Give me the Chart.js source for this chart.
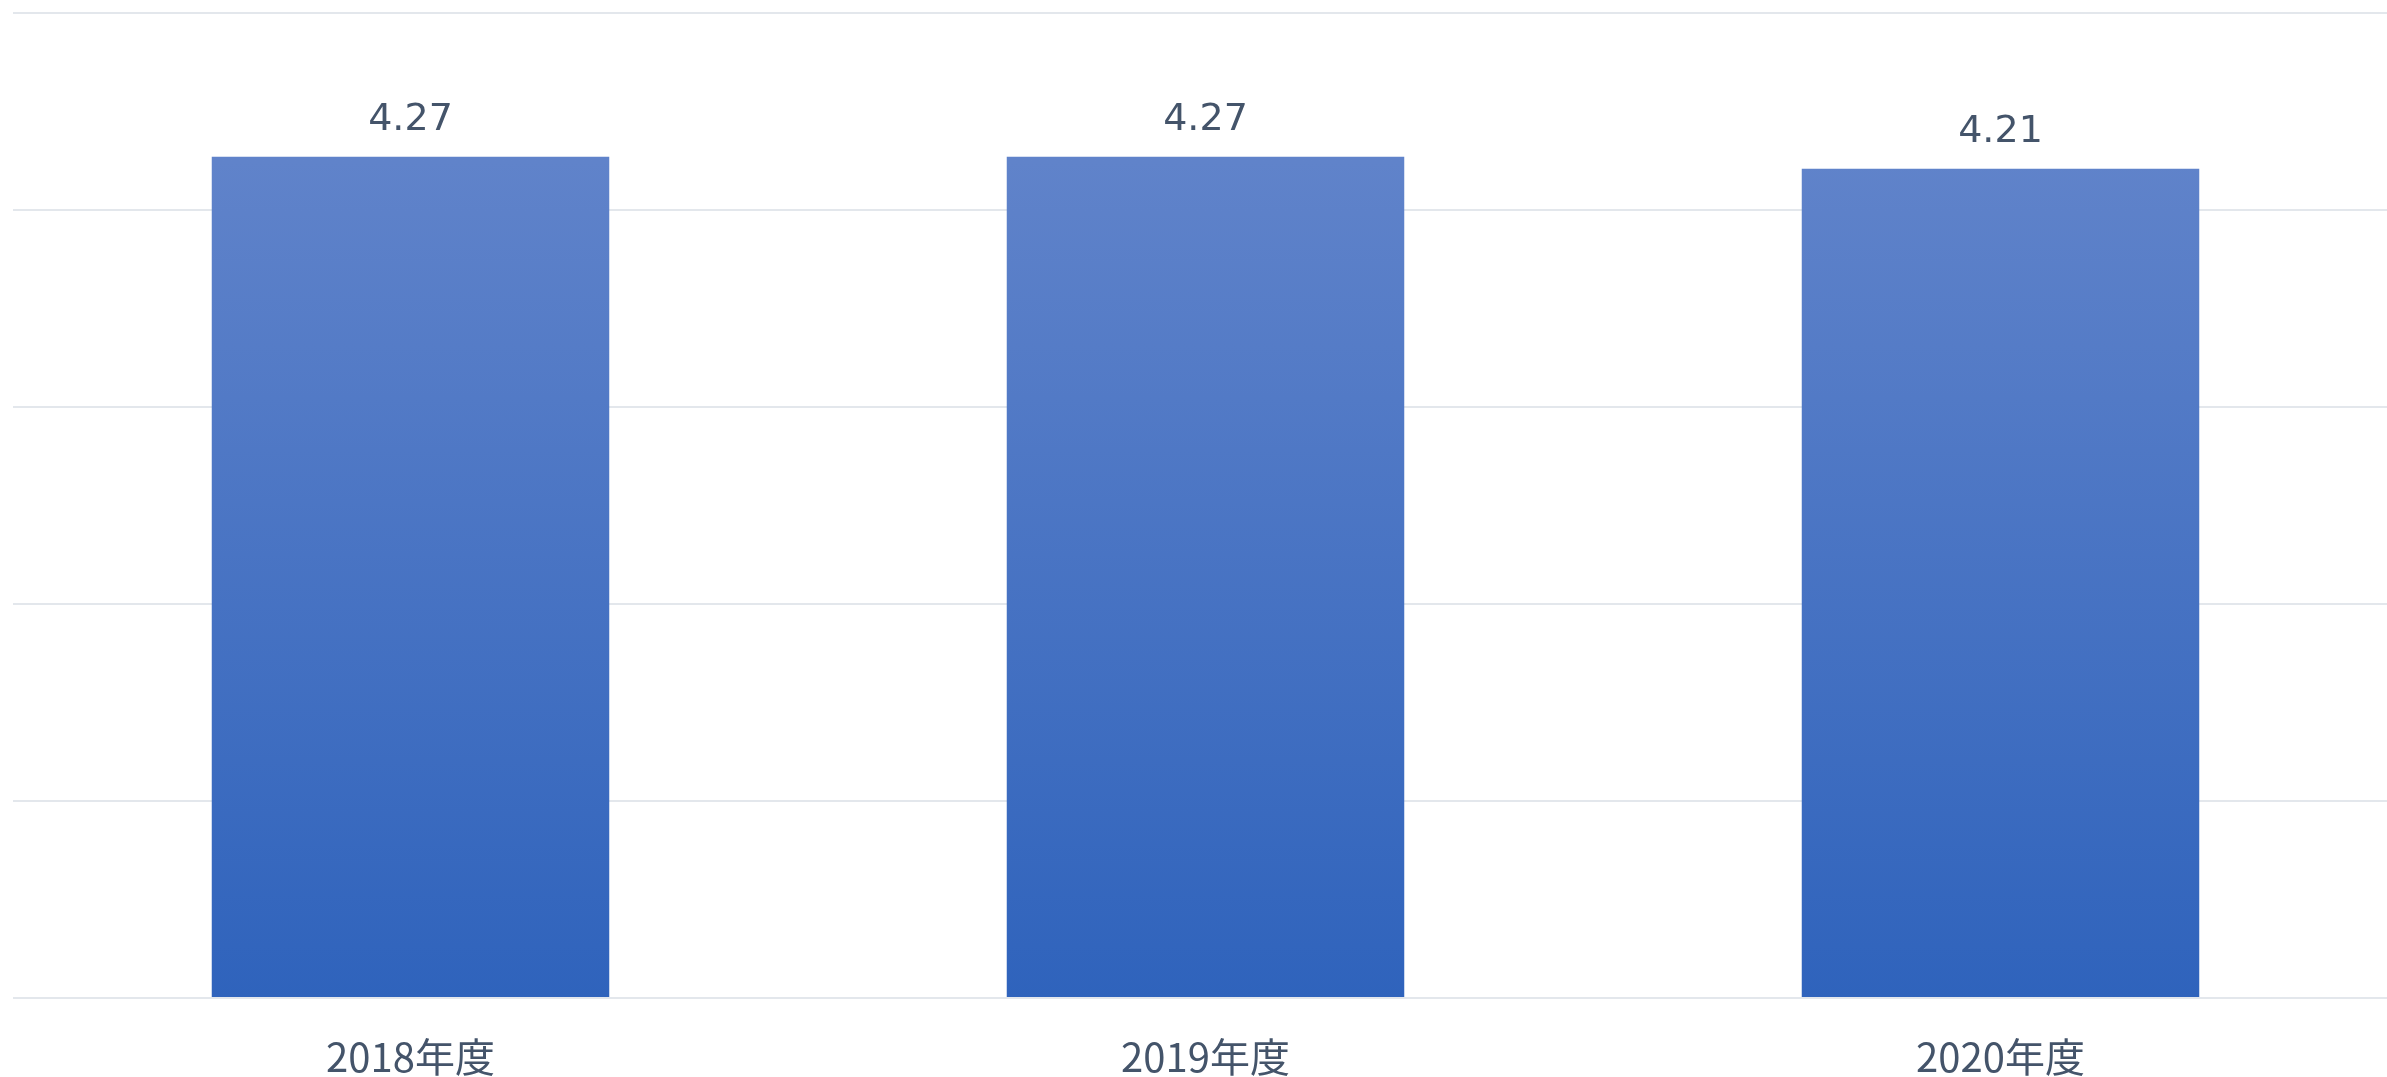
<!DOCTYPE html>
<html>
<head>
<meta charset="utf-8">
<script src="https://cdn.jsdelivr.net/npm/chart.js@4.4.0/dist/chart.umd.min.js"></script>
<style>
  html, body { margin: 0; padding: 0; background: #fff; overflow: hidden; }
  /* a bit larger than the window: the plot runs slightly past the right edge,
     and the axis padding is counted twice below the labels */
  #wrap { width: 2398px; height: 1116px; }
</style>
</head>
<body>
<div id="wrap"><canvas id="chart"></canvas></div>
<script>
// data
const categories = ["2018年度", "2019年度", "2020年度"];
const values = [4.27, 4.27, 4.21];
const yMax = 5;

const textColor = "#44546A";
const valueFont = "'DejaVu Sans', 'Noto Sans CJK JP', sans-serif";
const axisFont = "'Noto Sans CJK JP', 'DejaVu Sans', sans-serif";

// value labels above the bars
const valueLabels = {
    id: "valueLabels",
    afterDatasetsDraw(chart) {
        const ctx = chart.ctx;
        const meta = chart.getDatasetMeta(0);
        ctx.save();
        ctx.fillStyle = textColor;
        ctx.font = "38px " + valueFont;
        ctx.textAlign = "center";
        ctx.textBaseline = "alphabetic";
        meta.data.forEach((bar, i) => {
            ctx.fillText(values[i].toFixed(2), bar.x, bar.y - 27);
        });
        ctx.restore();
    }
};

const barFill = (c) => {
    const area = c.chart.chartArea;
    if (!area) return "#4676C6";
    const g = c.chart.ctx.createLinearGradient(0, area.top, 0, area.bottom);
    g.addColorStop(0, "#6688CC");
    g.addColorStop(0.15, "#6083CA");
    g.addColorStop(1, "#2F63BC");
    return g;
};

new Chart(document.getElementById("chart"), {
    type: "bar",
    data: {
        labels: categories,
        datasets: [{
            data: values,
            backgroundColor: barFill,
            borderWidth: 0,
            categoryPercentage: 1,
            barPercentage: 0.5
        }]
    },
    options: {
        responsive: true,
        maintainAspectRatio: false,
        animation: false,
        layout: { padding: { top: 13, left: 13, right: 0, bottom: 0 } },
        plugins: {
            legend: { display: false },
            tooltip: { enabled: false }
        },
        scales: {
            x: {
                grid: { display: false, drawTicks: false },
                border: { display: false },
                ticks: {
                    color: textColor,
                    font: { family: axisFont, size: 40 },
                    padding: 35
                }
            },
            y: {
                min: 0,
                max: yMax,
                ticks: { display: false, stepSize: 1 },
                border: { display: false },
                grid: { color: "#E3E7EC", lineWidth: 2, drawTicks: false }
            }
        }
    },
    plugins: [valueLabels]
});
</script>
</body>
</html>
